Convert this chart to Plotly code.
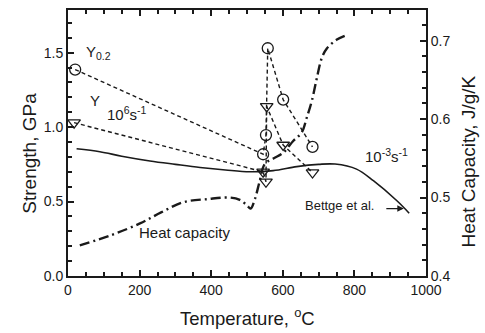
import plotly.graph_objects as go

# Y0.2 (circles)
y02_T = [20, 545, 553, 558, 601, 683]
y02_S = [1.387, 0.818, 0.947, 1.53, 1.185, 0.867]
# Y 10^6 s^-1 (triangles)
y6_T = [17, 545, 553, 555, 601, 683]
y6_S = [1.03, 0.70, 0.633, 1.14, 0.88, 0.695]
# Bettge et al. 10^-3 s^-1 (solid)
bet_T = [24, 89, 150, 229, 300, 369, 440, 508, 573, 639, 700, 746, 806, 853, 918, 953]
bet_S = [0.855, 0.835, 0.805, 0.773, 0.75, 0.729, 0.712, 0.700, 0.708, 0.735, 0.750, 0.752, 0.718, 0.64, 0.507, 0.422]
# Heat capacity (right axis)
hc_T = [33, 120, 201, 260, 322, 390, 452, 480, 500, 510, 522, 535, 550, 575, 601, 629, 653, 667, 681, 695, 709, 723, 750, 778]
hc_C = [0.439, 0.452, 0.467, 0.481, 0.494, 0.498, 0.500, 0.497, 0.490, 0.486, 0.498, 0.520, 0.543, 0.550, 0.557, 0.572, 0.583, 0.602, 0.623, 0.652, 0.678, 0.690, 0.701, 0.707]

FONT = "Liberation Sans"
INK = "#1a1a1a"

fig = go.Figure()
fig.add_trace(go.Scatter(x=hc_T, y=hc_C, yaxis="y2", mode="lines", line_shape="spline",
                         line=dict(color=INK, width=2.4, dash="10px,4px,2px,4px")))
fig.add_trace(go.Scatter(x=bet_T, y=bet_S, mode="lines", line_shape="spline",
                         line=dict(color=INK, width=1.6)))
fig.add_trace(go.Scatter(x=y02_T, y=y02_S, mode="lines+markers",
                         line=dict(color=INK, width=1.4, dash="4px,3px"),
                         marker=dict(symbol="circle-open", size=11, color=INK, line=dict(width=1.3))))
fig.add_trace(go.Scatter(x=y6_T, y=y6_S, mode="lines+markers",
                         line=dict(color=INK, width=1.4, dash="4px,3px"),
                         marker=dict(symbol="triangle-down-open", size=11, color=INK, line=dict(width=1.3))))

ann = []
def txt(x, y, s, size=15, xanchor="left"):
    ann.append(dict(x=x, y=y, xref="x", yref="y", text=s, showarrow=False,
                    xanchor=xanchor, yanchor="middle", font=dict(family=FONT, size=size, color=INK)))
txt(45, 1.50, "Y<sub>0.2</sub>")
txt(56, 1.18, "Y")
txt(103, 1.09, "10<sup>6</sup>s<sup>-1</sup>")
txt(824, 0.81, "10<sup>-3</sup>s<sup>-1</sup>")
txt(193, 0.293, "Heat capacity")
txt(656, 0.473, "Bettge et al.", size=13)
ann.append(dict(x=938, y=0.453, ax=885, ay=0.453, xref="x", yref="y", axref="x", ayref="y",
                text="", showarrow=True, arrowhead=2, arrowsize=1, arrowwidth=1.3, arrowcolor=INK))
# axis titles
ann.append(dict(x=0.5, y=-0.155, xref="paper", yref="paper", text="Temperature, <sup>o</sup>C",
                showarrow=False, xanchor="center", yanchor="middle", font=dict(family=FONT, size=18.5, color=INK)))
ann.append(dict(x=-0.106, y=0.46, xref="paper", yref="paper", text="Strength, GPa", textangle=-90,
                showarrow=False, xanchor="center", yanchor="middle", font=dict(family=FONT, size=19, color=INK)))
ann.append(dict(x=1.12, y=0.43, xref="paper", yref="paper", text="Heat Capacity, J/g/K", textangle=-90,
                showarrow=False, xanchor="center", yanchor="middle", font=dict(family=FONT, size=19, color=INK)))

tickfont = dict(family=FONT, size=14, color=INK)
fig.update_layout(
    width=485, height=333, margin=dict(l=68, r=59, t=8, b=57),
    paper_bgcolor="white", plot_bgcolor="white", showlegend=False,
    annotations=ann,
    xaxis=dict(range=[0, 1000], dtick=200, tick0=0, ticks="inside", ticklen=6, tickwidth=1.5,
               showline=True, linewidth=2, linecolor=INK, mirror="ticks", showgrid=False, zeroline=False,
               tickfont=tickfont, tickcolor=INK,
               minor=dict(dtick=50, ticks="inside", ticklen=4, tickwidth=1.5, tickcolor=INK)),
    yaxis=dict(range=[0, 1.787], dtick=0.5, tick0=0, tickformat=".1f", ticks="inside", ticklen=6, tickwidth=1.5,
               showline=True, linewidth=2, linecolor=INK, showgrid=False, zeroline=False,
               tickfont=tickfont, tickcolor=INK,
               minor=dict(dtick=0.1, ticks="inside", ticklen=4, tickwidth=1.5, tickcolor=INK)),
    yaxis2=dict(range=[0.4, 0.739], dtick=0.1, tick0=0.4, tickformat=".1f", ticks="inside", ticklen=6, tickwidth=1.5,
                overlaying="y", side="right", showline=True, linewidth=2, linecolor=INK,
                showgrid=False, zeroline=False, tickfont=tickfont, tickcolor=INK,
                minor=dict(dtick=0.02, ticks="inside", ticklen=4, tickwidth=1.5, tickcolor=INK)),
)
fig.write_html("out.html")
